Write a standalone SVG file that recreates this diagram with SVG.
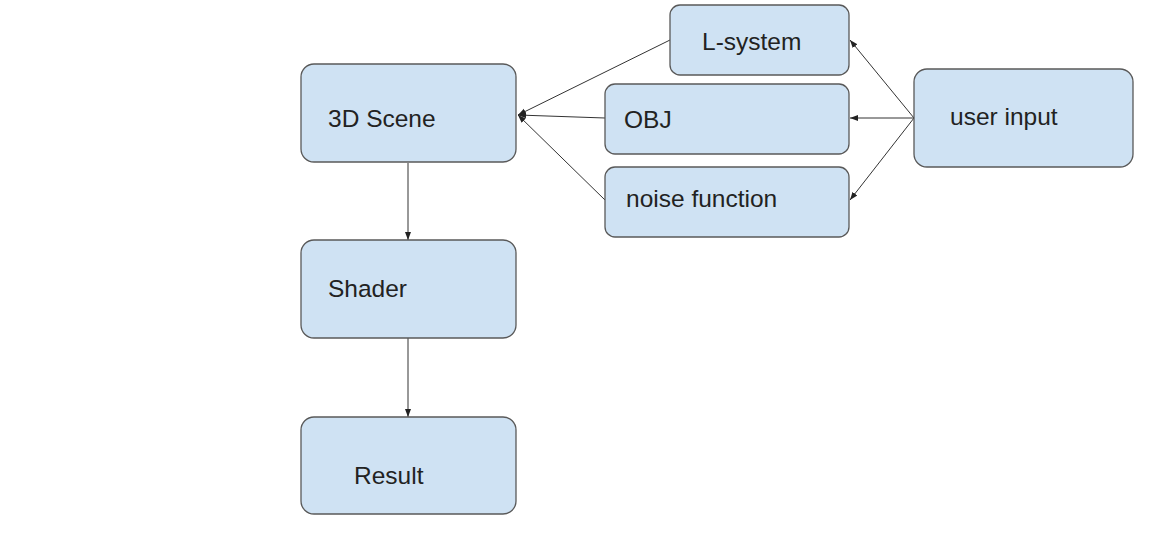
<svg xmlns="http://www.w3.org/2000/svg" width="1172" height="533" viewBox="0 0 1172 533">
<style>
.n rect{fill:#cfe2f3;stroke:#595959;stroke-width:1.3}
.n text{font-family:"Liberation Sans",Arial,sans-serif;font-size:24.5px;fill:#222}
.c line{stroke:#333;stroke-width:1}
</style>
<defs>
<marker id="a" viewBox="0 0 8 8" refX="8" refY="4" markerWidth="8" markerHeight="8" markerUnits="userSpaceOnUse" orient="auto">
<path d="M0,1 L8,4 L0,7 z" fill="#222"/>
</marker>
</defs>
<rect width="1172" height="533" fill="#fff"/>
<g class="c">
<line x1="670" y1="40" x2="518" y2="115" marker-end="url(#a)"/>
<line x1="605" y1="118" x2="518" y2="115" marker-end="url(#a)"/>
<line x1="605" y1="200" x2="518" y2="115" marker-end="url(#a)"/>
<line x1="914" y1="118" x2="850" y2="40" marker-end="url(#a)"/>
<line x1="914" y1="118" x2="850" y2="118" marker-end="url(#a)"/>
<line x1="914" y1="118" x2="850" y2="200" marker-end="url(#a)"/>
<line x1="408" y1="163" x2="408" y2="240" marker-end="url(#a)"/>
<line x1="408" y1="338" x2="408" y2="417" marker-end="url(#a)"/>
</g>
<g id="scene" class="n"><rect x="301" y="64" width="215" height="98" rx="13"/><text x="328" y="127">3D Scene</text></g>
<g id="shader" class="n"><rect x="301" y="240" width="215" height="98" rx="13"/><text x="328" y="297">Shader</text></g>
<g id="result" class="n"><rect x="301" y="417" width="215" height="97" rx="13"/><text x="354" y="484">Result</text></g>
<g id="lsystem" class="n"><rect x="670" y="5" width="179" height="70" rx="10"/><text x="702" y="50">L-system</text></g>
<g id="obj" class="n"><rect x="605" y="84" width="244" height="70" rx="10"/><text x="624" y="128">OBJ</text></g>
<g id="noise" class="n"><rect x="605" y="167" width="244" height="70" rx="10"/><text x="626" y="207">noise function</text></g>
<g id="user" class="n"><rect x="914" y="69" width="219" height="98" rx="13"/><text x="950" y="125">user input</text></g>
</svg>
